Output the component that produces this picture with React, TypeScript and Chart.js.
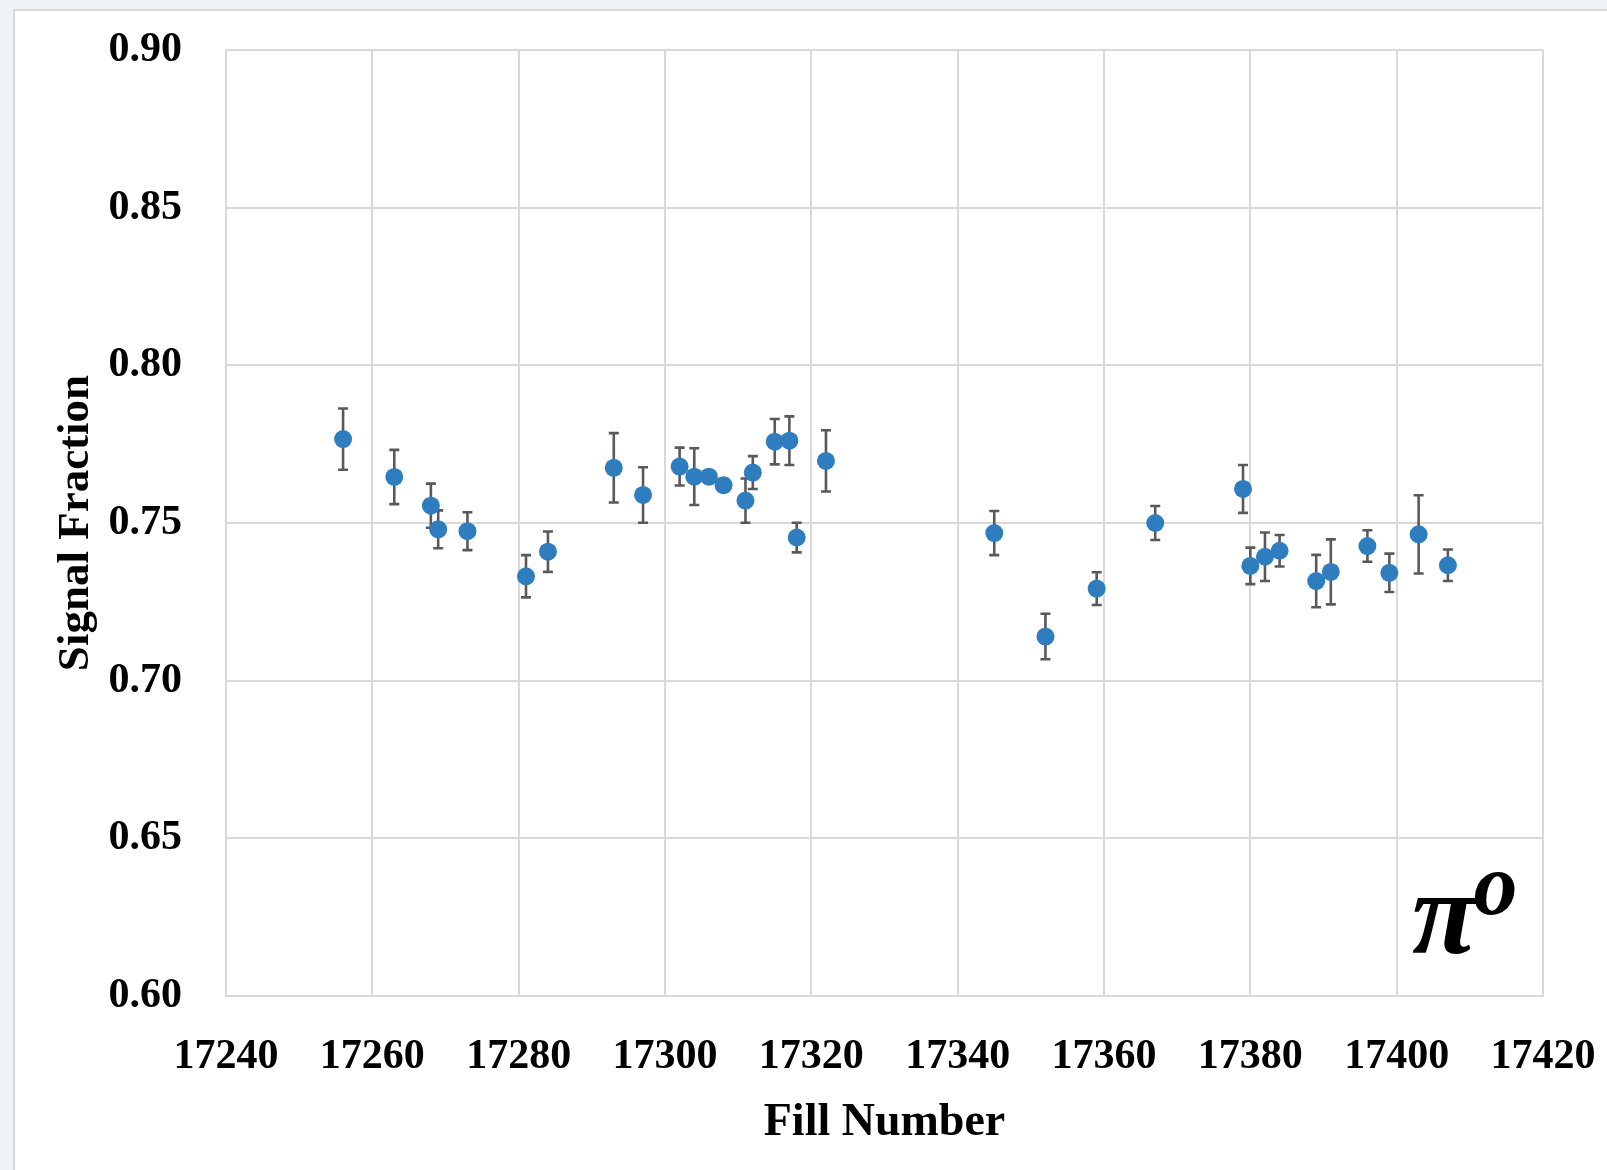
import React, { useEffect, useRef } from "react";
import { Chart, registerables } from "chart.js";

Chart.register(...registerables);

// Fill numbers and fitted π0 signal fractions with their uncertainties
const fillNumbers = [
  17256, 17263, 17268, 17269, 17273, 17281, 17284, 17293, 17297, 17302, 17304,
  17306, 17308, 17311, 17312, 17315, 17317, 17318, 17322, 17345, 17352, 17359,
  17367, 17379, 17380, 17382, 17384, 17389, 17391, 17396, 17399, 17403, 17407,
];

const signalFractions = [
  0.7766, 0.7646, 0.7555, 0.748, 0.7474, 0.7331, 0.7409, 0.7675, 0.7589, 0.7679,
  0.7647, 0.7647, 0.762, 0.7571, 0.766, 0.7758, 0.7761, 0.7454, 0.7697, 0.7468,
  0.714, 0.7292, 0.75, 0.7608, 0.7364, 0.7393, 0.7412, 0.7316, 0.7345, 0.7427,
  0.7342, 0.7464, 0.7366,
];

const fractionErrors = [
  0.0097, 0.0086, 0.007, 0.006, 0.006, 0.0067, 0.0064, 0.011, 0.0088, 0.006,
  0.009, 0.002, 0.002, 0.007, 0.0052, 0.0072, 0.0077, 0.0047, 0.0097, 0.007,
  0.0072, 0.0052, 0.0054, 0.0076, 0.0058, 0.0077, 0.005, 0.0083, 0.0103, 0.005,
  0.0061, 0.0124, 0.005,
];

const xTickValues = [17240, 17260, 17280, 17300, 17320, 17340, 17360, 17380, 17400, 17420];
const yTickValues = [0.6, 0.65, 0.7, 0.75, 0.8, 0.85, 0.9];

const SERIF = "'Liberation Serif', 'Times New Roman', serif";
const POINT_COLOR = "#2e7ebf";
const ERROR_COLOR = "#595959";
const GRID_COLOR = "#d9d9d9";

// Vertical error bars with caps, drawn under the markers
const errorBarPlugin = {
  id: "errorBars",
  beforeDatasetsDraw(chart: any) {
    const { ctx, scales } = chart;
    const x = scales.x;
    const y = scales.y;
    ctx.save();
    ctx.strokeStyle = ERROR_COLOR;
    ctx.lineWidth = 2.6;
    const cap = 5;
    fillNumbers.forEach((f, i) => {
      const px = x.getPixelForValue(f);
      const top = y.getPixelForValue(signalFractions[i] + fractionErrors[i]);
      const bot = y.getPixelForValue(signalFractions[i] - fractionErrors[i]);
      ctx.beginPath();
      ctx.moveTo(px, top);
      ctx.lineTo(px, bot);
      ctx.moveTo(px - cap, top);
      ctx.lineTo(px + cap, top);
      ctx.moveTo(px - cap, bot);
      ctx.lineTo(px + cap, bot);
      ctx.stroke();
    });
    ctx.restore();
  },
};

// Particle label in the lower right corner of the plot
const particleLabelPlugin = {
  id: "particleLabel",
  afterDraw(chart: any) {
    const { ctx, chartArea } = chart;
    ctx.save();
    ctx.fillStyle = "#000";
    ctx.textBaseline = "alphabetic";
    ctx.textAlign = "left";
    const baseX = chartArea.right - 131;
    const baseY = chartArea.bottom - 43;
    ctx.font = `italic bold 118px ${SERIF}`;
    ctx.fillText("π", baseX, baseY);
    const w = ctx.measureText("π").width;
    ctx.font = `italic bold 88px ${SERIF}`;
    ctx.fillText("o", baseX + w - 3, baseY - 39);
    ctx.restore();
  },
};

export default function App() {
  const canvasRef = useRef<HTMLCanvasElement | null>(null);

  useEffect(() => {
    const canvas = canvasRef.current;
    if (!canvas) return;
    const chart = new Chart(canvas, {
      type: "scatter",
      data: {
        datasets: [
          {
            label: "Signal Fraction",
            data: fillNumbers.map((f, i) => ({ x: f, y: signalFractions[i] })),
            backgroundColor: POINT_COLOR,
            borderColor: POINT_COLOR,
            pointRadius: 9,
            pointHoverRadius: 9,
            borderWidth: 0,
          },
        ],
      },
      plugins: [errorBarPlugin, particleLabelPlugin],
      options: {
        animation: false,
        responsive: true,
        maintainAspectRatio: false,
        layout: { padding: { left: 0, right: 64, top: 39, bottom: 0 } },
        plugins: {
          legend: { display: false },
          tooltip: { enabled: false },
        },
        scales: {
          x: {
            type: "linear",
            min: xTickValues[0],
            max: xTickValues[xTickValues.length - 1],
            afterBuildTicks: (s: any) => {
              s.ticks = xTickValues.map((v) => ({ value: v }));
            },
            afterFit: (s: any) => {
              s.height = 174;
              s.paddingLeft = 0;
              s.paddingRight = 0;
            },
            grid: { color: GRID_COLOR, lineWidth: 2, drawTicks: false },
            border: { display: true, color: GRID_COLOR, width: 2 },
            ticks: {
              autoSkip: false,
              maxRotation: 0,
              padding: 36,
              color: "#000",
              font: { family: SERIF, size: 42, weight: "bold" },
              callback: (v: any) => String(v),
            },
            title: {
              display: true,
              text: "Fill Number",
              color: "#000",
              font: { family: SERIF, size: 46, weight: "bold" },
              padding: { top: 0, bottom: 19 },
            },
          },
          y: {
            type: "linear",
            min: yTickValues[0],
            max: yTickValues[yTickValues.length - 1],
            afterBuildTicks: (s: any) => {
              s.ticks = yTickValues.map((v) => ({ value: v }));
            },
            afterFit: (s: any) => {
              s.width = 211;
              s.paddingTop = 0;
              s.paddingBottom = 0;
            },
            grid: { color: GRID_COLOR, lineWidth: 2, drawTicks: false },
            border: { display: true, color: GRID_COLOR, width: 2 },
            ticks: {
              padding: 44,
              color: "#000",
              font: { family: SERIF, size: 42, weight: "bold" },
              callback: (v: any) => Number(v).toFixed(2),
            },
            title: {
              display: true,
              text: "Signal Fraction",
              color: "#000",
              font: { family: SERIF, size: 45, weight: "bold" },
              padding: { top: 34, bottom: 0 },
            },
          },
        },
      },
    });
    return () => chart.destroy();
  }, []);

  return (
    <div style={{ position: "fixed", inset: 0, background: "#eff3f8" }}>
      <div
        style={{
          position: "absolute",
          left: 13,
          top: 9,
          right: 0,
          bottom: 0,
          background: "#fff",
          borderLeft: "2px solid #d5d8dc",
          borderTop: "2px solid #d5d8dc",
        }}
      >
        <div style={{ position: "absolute", left: 0, top: 0, right: 0, bottom: 0 }}>
          <canvas ref={canvasRef} />
        </div>
      </div>
    </div>
  );
}
